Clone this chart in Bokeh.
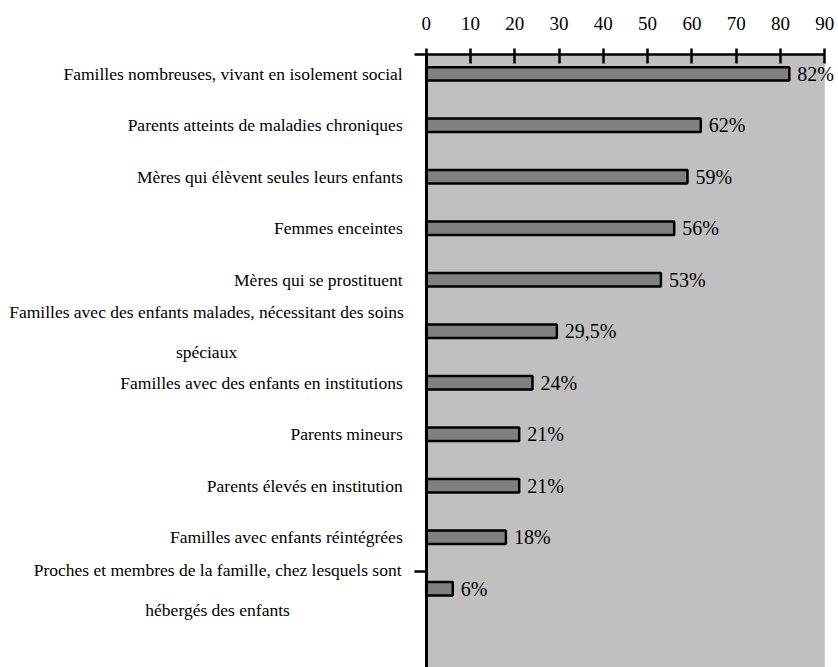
from bokeh.plotting import figure
from bokeh.models import (ColumnDataSource, LabelSet, Range1d, FixedTicker,
                          LinearAxis, BoxAnnotation)
from bokeh.embed import file_html
from bokeh.resources import INLINE

categories = [
    "Familles nombreuses, vivant en isolement social",
    "Parents atteints de maladies chroniques",
    "Mères qui élèvent seules leurs enfants",
    "Femmes enceintes",
    "Mères qui se prostituent",
    "Familles avec des enfants malades, nécessitant des soins\nspéciaux",
    "Familles avec des enfants en institutions",
    "Parents mineurs",
    "Parents élevés en institution",
    "Familles avec enfants réintégrées",
    "Proches et membres de la famille, chez lesquels sont\nhébergés des enfants",
]
values = [82, 62, 59, 56, 53, 29.5, 24, 21, 21, 18, 6]
x_ticks = [0, 10, 20, 30, 40, 50, 60, 70, 80, 90]

FONT = "Liberation Serif"


def fmt(v):
    s = ("%g" % v).replace(".", ",")
    return s + "%"


idx = list(range(len(categories)))
bars = ColumnDataSource(dict(y=idx, v=values, t=[fmt(v) for v in values]))

AX_TOP = -0.375     # category-axis position of the top (value) axis
Y_BOTTOM = 11.53

p = figure(width=838, height=667, output_backend="svg", toolbar_location=None,
           x_range=Range1d(-96.12, 93.1), y_range=Range1d(Y_BOTTOM, -1.424),
           x_axis_location=None, y_axis_location=None, min_border=0)
p.grid.visible = False
p.background_fill_color = "white"
p.border_fill_color = "white"
p.outline_line_color = None

# plot area background
p.add_layout(BoxAnnotation(left=0, right=90, top=AX_TOP, fill_color="#c0c0c0",
                           fill_alpha=1, line_color=None, level="underlay"))

# value axis on top
xa = LinearAxis(fixed_location=AX_TOP, bounds=(0, 90), ticker=FixedTicker(ticks=x_ticks))
xa.axis_line_color = "black"
xa.axis_line_width = 2.5
xa.major_tick_line_color = "black"
xa.major_tick_line_width = 2.5
xa.major_tick_in = 9
xa.major_tick_out = 6
xa.minor_tick_line_color = None
xa.major_label_text_font = FONT
xa.major_label_text_font_size = "19px"
xa.major_label_text_color = "black"
xa.major_label_standoff = 19
p.add_layout(xa, "above")

# category axis on the left
ya = LinearAxis(fixed_location=0, bounds=(AX_TOP, Y_BOTTOM),
                ticker=FixedTicker(ticks=[-0.37, 9.66]))
ya.major_label_overrides = {-0.37: "", 9.66: ""}
ya.axis_line_color = "black"
ya.axis_line_width = 3
ya.major_tick_line_color = "black"
ya.major_tick_line_width = 2.5
ya.major_tick_in = 0
ya.major_tick_out = 12
ya.minor_tick_line_color = None
p.add_layout(ya, "left")

p.hbar(y="y", left=0, right="v", height=0.26, source=bars,
       fill_color="#808080", line_color="black", line_width=2.5)

p.add_layout(LabelSet(x="v", y="y", text="t", source=bars, x_offset=8,
                      text_baseline="middle", text_align="left",
                      text_font=FONT, text_font_size="20px", text_color="black"))

# category labels
right_x, right_y, right_t = [], [], []
cen_x, cen_y, cen_t = [], [], []
block_centres = {5: -49.6, 10: -47.1}
for i, c in enumerate(categories):
    lines = c.split("\n")
    if len(lines) == 1:
        right_x.append(-5.3)
        right_y.append(i)
        right_t.append(c)
    else:
        cx = block_centres.get(i, -48.0)
        for k, ln in enumerate(lines):
            cen_x.append(cx)
            cen_y.append(i + (-0.37 if k == 0 else 0.41))
            cen_t.append(ln)

p.add_layout(LabelSet(x="x", y="y", text="t",
                      source=ColumnDataSource(dict(x=right_x, y=right_y, t=right_t)),
                      text_align="right", text_baseline="middle",
                      text_font=FONT, text_font_size="17.5px", text_color="black"))
p.add_layout(LabelSet(x="x", y="y", text="t",
                      source=ColumnDataSource(dict(x=cen_x, y=cen_y, t=cen_t)),
                      text_align="center", text_baseline="middle",
                      text_font=FONT, text_font_size="17.5px", text_color="black"))

open("out.html", "w").write(file_html(p, INLINE))
